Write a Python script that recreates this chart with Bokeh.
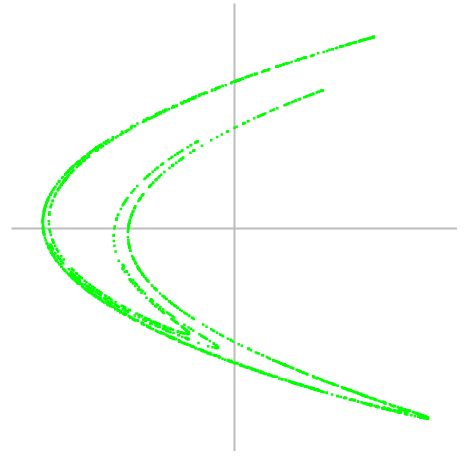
from bokeh.plotting import figure
from bokeh.models import Range1d
from bokeh.embed import file_html
from bokeh.resources import INLINE

# Hénon map parameters (chart drawn rotated by 180 degrees)
a_param = 1.4
b_param = 0.3
x_start = 0.1
y_start = 0.1
n_transient = 100
n_points = 1800

# extents of the two reference lines through the origin
h_line_x = [-1.48, 1.6]
v_line_y = [-0.5, 0.4526]

xs, ys = [], []
x, y = x_start, y_start
for i in range(n_transient + n_points):
    x, y = 1 - a_param * x * x + y, b_param * x
    if i >= n_transient:
        xs.append(-x)
        ys.append(-y)

p = figure(width=457, height=451, output_backend="svg", toolbar_location=None,
           x_range=Range1d(-1.553, 1.480), y_range=Range1d(-0.4486, 0.4585),
           min_border=0)
p.axis.visible = False
p.grid.visible = False
p.outline_line_color = None
p.background_fill_color = "white"

p.line(h_line_x, [0, 0], line_color="#bcbcbc", line_width=2)
p.line([0, 0], v_line_y, line_color="#bcbcbc", line_width=2)

p.scatter(xs, ys, marker="square", size=2.5, color="#00ff00", line_width=0)

open("out.html", "w").write(file_html(p, INLINE))
